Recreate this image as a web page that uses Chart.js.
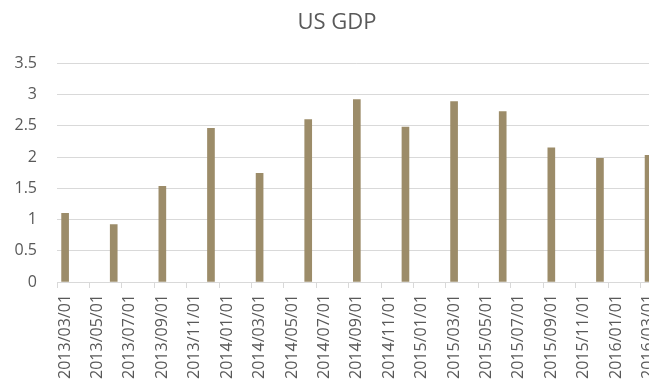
<!DOCTYPE html>
<html>
<head>
<meta charset="utf-8">
<script src="https://cdn.jsdelivr.net/npm/chart.js@4"></script>
<style>
  html, body { margin: 0; padding: 0; overflow: hidden; background: #fff; }
  canvas { display: block; }
</style>
</head>
<body>
<canvas id="gdp-chart" width="674" height="385"></canvas>
<script>
  // monthly category axis, GDP values only on quarter months
  const months = [
    "2013/03/01", "2013/04/01", "2013/05/01", "2013/06/01", "2013/07/01", "2013/08/01",
    "2013/09/01", "2013/10/01", "2013/11/01", "2013/12/01", "2014/01/01", "2014/02/01",
    "2014/03/01", "2014/04/01", "2014/05/01", "2014/06/01", "2014/07/01", "2014/08/01",
    "2014/09/01", "2014/10/01", "2014/11/01", "2014/12/01", "2015/01/01", "2015/02/01",
    "2015/03/01", "2015/04/01", "2015/05/01", "2015/06/01", "2015/07/01", "2015/08/01",
    "2015/09/01", "2015/10/01", "2015/11/01", "2015/12/01", "2016/01/01", "2016/02/01",
    "2016/03/01",
  ];
  const gdp = [
    1.10, null, null, 0.92, null, null,
    1.53, null, null, 2.46, null, null,
    1.74, null, null, 2.60, null, null,
    2.92, null, null, 2.48, null, null,
    2.89, null, null, 2.73, null, null,
    2.15, null, null, 1.98, null, null,
    2.03,
  ];
  const yTicks = [0, 0.5, 1, 1.5, 2, 2.5, 3, 3.5];

  const textColor = "#595959";
  const gridColor = "#d9d9d9";
  const font = { family: "'Open Sans', sans-serif", size: 16 };

  const ctx = document.getElementById("gdp-chart").getContext("2d");
  new Chart(ctx, {
    type: "bar",
    data: {
      labels: months,
      datasets: [
        {
          label: "US GDP",
          data: gdp,
          backgroundColor: "#9c8c69",
          barThickness: 7,
        },
      ],
    },
    options: {
      responsive: false,
      animation: false,
      layout: { padding: 0 },
      plugins: {
        legend: { display: false },
        tooltip: { enabled: false },
        title: {
          display: true,
          text: "US GDP",
          color: textColor,
          font: { family: "'Open Sans', sans-serif", size: 22, weight: "normal" },
          padding: { top: 10, bottom: 27 },
        },
      },
      scales: {
        x: {
          offset: true,
          afterFit: (scale) => { scale.height = 103; },
          ticks: {
            color: textColor,
            font: font,
            autoSkip: false,
            maxRotation: 90,
            minRotation: 90,
            padding: 6,
            callback: (value, index) => (index % 2 === 0 ? months[index] : ""),
          },
          grid: {
            offset: true,
            drawOnChartArea: false,
            tickLength: 6,
            color: (c) => (c.index % 2 === 0 ? gridColor : "rgba(0,0,0,0)"),
          },
          border: { color: gridColor },
        },
        y: {
          min: 0,
          max: 3.5,
          afterFit: (scale) => { scale.width = 57; },
          afterBuildTicks: (scale) => {
            scale.ticks = yTicks.map((v) => ({ value: v }));
          },
          ticks: {
            color: textColor,
            font: font,
            padding: 20,
            callback: (value) => String(value),
          },
          grid: { color: gridColor, drawTicks: false },
          border: { display: false },
        },
        // empty right axis, only keeps the plot's right margin
        yRight: {
          position: "right",
          min: 0,
          max: 3.5,
          afterFit: (scale) => { scale.width = 17; },
          ticks: { display: false },
          grid: { display: false },
          border: { display: false },
        },
      },
    },
  });
</script>
</body>
</html>
